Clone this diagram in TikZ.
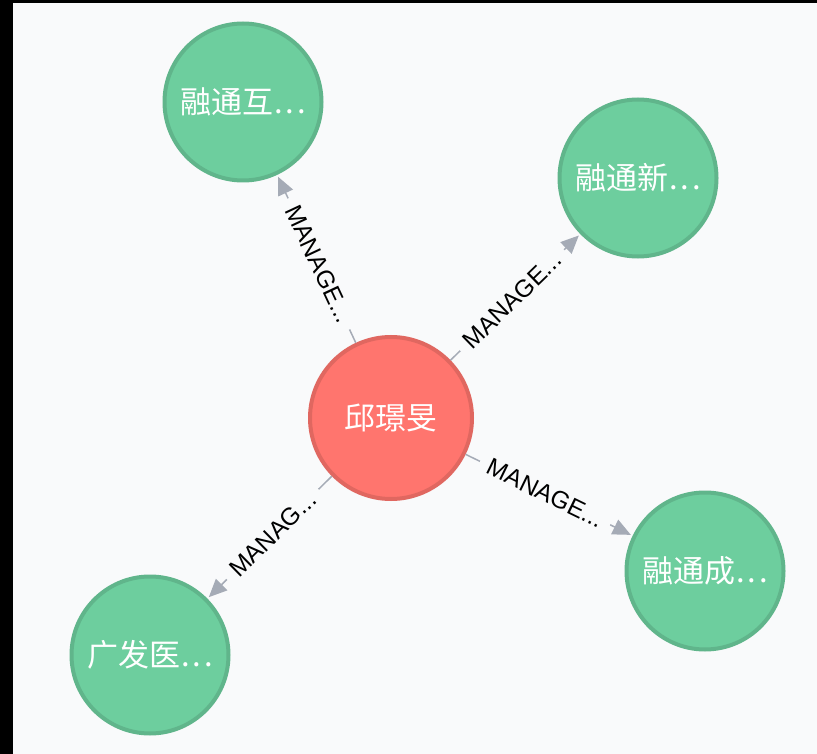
\documentclass[tikz,border=0pt]{standalone}
\usepackage{fontspec}
\setmainfont{Liberation Sans}
\newfontfamily\cjk{Noto Sans CJK SC}
\usetikzlibrary{arrows.meta}
\definecolor{bg}{RGB}{249,250,251}
\definecolor{gfill}{HTML}{6DCE9E}
\definecolor{gline}{HTML}{60B58B}
\definecolor{rfill}{HTML}{FF756E}
\definecolor{rline}{HTML}{E06760}
\definecolor{edgec}{HTML}{A5ABB6}
\newcommand{\dotsx}{\kern1pt.\kern3pt.\kern3pt.}
\begin{document}
\begin{tikzpicture}[x=1pt,y=-1pt,
  gnode/.style={circle, fill=gfill, draw=gline, line width=4pt, minimum size=157pt, inner sep=0pt, text=white, font=\cjk\fontsize{31}{31}\selectfont},
  rnode/.style={gnode, fill=rfill, draw=rline, minimum size=162pt},
  edgeline/.style={draw=edgec, line width=1.5pt, -{Triangle[length=18pt,width=16pt]}, shorten >=2pt},
  lbl/.style={sloped, fill=bg, inner xsep=9pt, inner ysep=3pt, font=\fontsize{24.5}{24.5}\selectfont, text=black}]
\fill[bg] (0,0) rectangle (817,754);
\fill[black] (0,0) rectangle (817,3);
\fill[black] (0,0) rectangle (13,754);
\useasboundingbox (0,0) rectangle (817,754);

\node[rnode] (c) at (391,418) {邱璟旻};
\node[gnode] (a) at (243,102) {融通互\dotsx};
\node[gnode] (b) at (638,178) {融通新\dotsx};
\node[gnode] (d) at (705,571) {融通成\dotsx};
\node[gnode] (e) at (150,655) {广发医\dotsx};

\draw[edgeline] (c) -- node[lbl, pos=0.47] {MANAGE...} (a);
\draw[edgeline] (c) -- node[lbl, pos=0.475] {MANAGE...} (b);
\draw[edgeline] (c) -- node[lbl, pos=0.476] {MANAGE...} (d);
\draw[edgeline] (c) -- node[lbl, pos=0.475] {MANAG...} (e);
\end{tikzpicture}
\end{document}
